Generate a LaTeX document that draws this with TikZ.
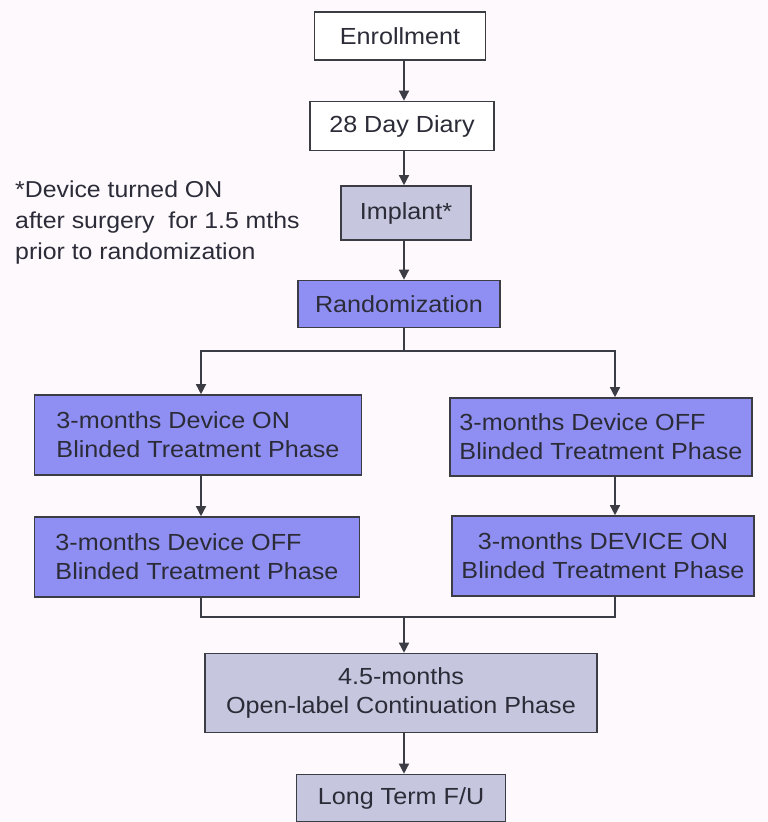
\documentclass[tikz,border=0pt]{standalone}
\usepackage{fontspec}
\setmainfont[FakeStretch=1.08]{Liberation Sans}
\usetikzlibrary{arrows.meta}
\definecolor{bgpink}{HTML}{FDF9FD}
\definecolor{boxblue}{HTML}{8F8FF3}
\definecolor{boxgray}{HTML}{C6C6DF}
\definecolor{edgegray}{HTML}{3C3C44}
\definecolor{inkgray}{HTML}{2C2C38}
\tikzset{
  box/.style={draw=edgegray, line width=1.6pt, text=inkgray, inner sep=0pt,
    font=\fontsize{23.3}{29}\selectfont},
  plainbox/.style={box, fill=white},
  graybox/.style={box, fill=boxgray},
  bluebox/.style={box, fill=boxblue},
  phasebox/.style={bluebox, minimum height=80pt, align=left},
  arr/.style={draw=edgegray, line width=1.4pt, -{Triangle[width=10pt,length=10pt]}},
  link/.style={draw=edgegray, line width=1.4pt}
}
\begin{document}
\begin{tikzpicture}[x=1pt,y=-1pt]
  \fill[bgpink] (0,0) rectangle (768,822);
  \useasboundingbox (0,0) rectangle (768,822);
  % main column
  \node[plainbox, minimum width=171pt, minimum height=48pt] (enroll) at (400,36) {Enrollment};
  \node[plainbox, minimum width=184pt, minimum height=49pt] (diary) at (402,126) {28 Day Diary};
  \node[graybox, minimum width=130pt, minimum height=54pt] (implant) at (406,213) {Implant*};
  \node[bluebox, minimum width=202pt, minimum height=47pt] (random) at (399,304) {Randomization};
  % note
  \node[anchor=north west, align=left, inner sep=0pt, text=inkgray,
    font=\fontsize{23}{31}\selectfont] (note) at (15,181)
    {*Device turned ON\\after surgery\ \ for 1.5 mths\\prior to randomization};
  % two arms
  \node[phasebox, minimum width=327pt] (lon) at (198,435) {3-months Device ON\\Blinded Treatment Phase};
  \node[phasebox, minimum width=302pt, minimum height=78pt] (roff) at (601,437) {3-months Device OFF\\Blinded Treatment Phase};
  \node[phasebox, minimum width=325pt] (loff) at (197,557) {3-months Device OFF\\Blinded Treatment Phase};
  \node[phasebox, minimum width=302pt, align=center] (ron) at (603,556) {3-months DEVICE ON\\Blinded Treatment Phase};
  % end of study
  \node[graybox, minimum width=392pt, minimum height=79pt, align=center] (open) at (401,693)
    {4.5-months\\Open-label Continuation Phase};
  \node[graybox, minimum width=209pt, minimum height=47pt] (ltfu) at (401,798) {Long Term F/U};
  % connectors
  \coordinate (axis) at (404,0);
  \coordinate (lcol) at (201,0);
  \coordinate (rcol) at (615,0);
  \coordinate (split) at (404,351);
  \coordinate (merge) at (404,617);
  \draw[arr] (enroll.south -| axis) -- (diary.north -| axis);
  \draw[arr] (diary.south -| axis) -- (implant.north -| axis);
  \draw[arr] (implant.south -| axis) -- (random.north -| axis);
  \draw[link] (random.south -| split) -- (split);
  \draw[arr] (split) -| (lon.north -| lcol);
  \draw[arr] (split) -| (roff.north -| rcol);
  \draw[arr] (lon.south -| lcol) -- (loff.north -| lcol);
  \draw[arr] (roff.south -| rcol) -- (ron.north -| rcol);
  \draw[link] (loff.south -| lcol) |- (merge) -| (ron.south -| rcol);
  \draw[arr] (merge) -- (open.north -| merge);
  \draw[arr] (open.south -| axis) -- (ltfu.north -| axis);
\end{tikzpicture}
\end{document}
